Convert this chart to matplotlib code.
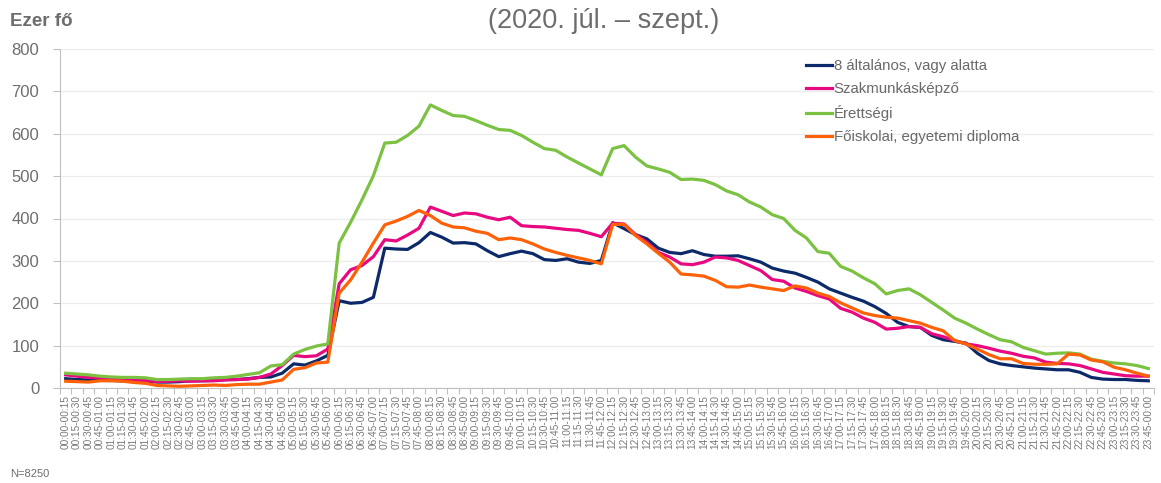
import matplotlib
matplotlib.use("Agg")
import matplotlib.pyplot as plt
from matplotlib.ticker import FixedLocator, NullFormatter

plt.rcParams['font.family'] = ['Liberation Sans', 'DejaVu Sans']

# 15 perces idősávok, 00:00-00:15 ... 23:45-00:00
def _hm(m):
    m = m % (24 * 60)
    return "%02d:%02d" % (m // 60, m % 60)

slots = [_hm(15 * k) + "-" + _hm(15 * (k + 1)) for k in range(96)]

# ezer fő, értékek
also = [22, 20, 19, 19, 18, 17, 17, 17, 14, 14, 15, 17, 17, 18, 20, 20,
        22, 25, 26, 35, 57, 54, 64, 77, 206, 200, 202, 214, 330, 328, 327, 343,
        367, 356, 342, 343, 340, 324, 310, 317, 323, 317, 303, 301, 305, 297, 294, 301,
        390, 376, 362, 352, 330, 320, 317, 324, 315, 311, 311, 312, 305, 297, 283, 276,
        271, 261, 250, 234, 224, 214, 205, 192, 176, 155, 145, 143, 124, 114, 110, 106,
        82, 65, 57, 53, 50, 47, 45, 43, 43, 37, 25, 21, 20, 20, 18, 17]

szakmunkas = [31, 28, 25, 24, 21, 20, 19, 18, 15, 16, 17, 16, 17, 17, 19, 20,
              21, 25, 33, 53, 77, 74, 76, 92, 246, 279, 289, 310, 350, 347, 361, 377,
              427, 417, 407, 413, 411, 403, 397, 403, 383, 381, 380, 377, 374, 372, 365, 357,
              389, 387, 362, 344, 320, 309, 293, 291, 297, 309, 307, 301, 289, 277, 256, 252,
              236, 228, 218, 210, 188, 179, 165, 155, 139, 141, 145, 143, 128, 121, 112, 104,
              100, 94, 87, 82, 75, 71, 61, 58, 57, 53, 45, 37, 33, 29, 28, 28]

erettsegi = [35, 33, 31, 28, 26, 25, 25, 24, 20, 20, 21, 22, 22, 24, 25, 28,
             32, 36, 52, 55, 80, 91, 99, 104, 342, 391, 444, 501, 578, 580, 596, 618,
             668, 655, 643, 641, 631, 620, 610, 608, 596, 580, 565, 561, 545, 531, 517, 503,
             565, 572, 545, 524, 517, 509, 492, 493, 490, 480, 465, 456, 439, 427, 409, 400,
             372, 354, 322, 318, 287, 276, 260, 246, 222, 230, 234, 220, 202, 184, 165, 153,
             139, 126, 114, 109, 96, 88, 80, 82, 83, 80, 68, 63, 59, 57, 53, 46]

foiskola = [16, 15, 14, 17, 17, 16, 13, 11, 6, 5, 4, 5, 6, 7, 6, 8,
            9, 9, 14, 19, 44, 48, 59, 61, 224, 255, 297, 342, 385, 394, 405, 419,
            407, 389, 380, 378, 370, 365, 350, 354, 350, 340, 328, 320, 313, 307, 301, 293,
            386, 386, 360, 340, 318, 297, 269, 267, 264, 254, 239, 238, 243, 238, 234, 230,
            241, 236, 224, 216, 201, 189, 177, 171, 167, 165, 159, 153, 143, 135, 112, 104,
            92, 79, 69, 69, 58, 56, 56, 57, 80, 78, 66, 62, 49, 43, 35, 28]

series_names = ["8 általános, vagy alatta", "Szakmunkásképző", "Érettségi",
                "Főiskolai, egyetemi diploma"]
colors = ["#0c2a6a", "#e8087f", "#7cc242", "#ff6108"]

fig = plt.figure(figsize=(11.61, 4.83), dpi=100)
ax = fig.add_axes([60 / 1161, 95 / 483, 1094 / 1161, 339 / 483])

x = list(range(len(slots)))
for vals, name, c in zip([also, szakmunkas, erettsegi, foiskola], series_names, colors):
    ax.plot(x, vals, color=c, lw=2.3, label=name, solid_joinstyle='round')

ax.set_xlim(-0.5, len(slots) - 0.5)
ax.set_ylim(0, 800)
ax.set_yticks(range(0, 801, 100))
ax.yaxis.grid(True, color='#ececec', lw=0.9)
ax.set_axisbelow(True)

ax.set_xticks(x)
ax.set_xticklabels(slots, rotation=90, fontsize=7.3, color='#7a7a7a')
ax.xaxis.set_minor_locator(FixedLocator([i - 0.5 for i in range(len(slots) + 1)]))
ax.xaxis.set_minor_formatter(NullFormatter())
ax.tick_params(axis='x', which='major', length=0, pad=5)
ax.tick_params(axis='x', which='minor', length=4, color='#c0c0c0', width=0.8)
ax.tick_params(axis='y', length=5, color='#c0c0c0', width=0.8, labelsize=12,
               labelcolor='#6e6e6e', pad=10)

for s in ['top', 'right']:
    ax.spines[s].set_visible(False)
ax.spines['left'].set_color('#c0c0c0')
ax.spines['bottom'].set_color('#c0c0c0')

leg = ax.legend(loc='upper left', bbox_to_anchor=(800 / 1161, 1 - 53 / 483),
                bbox_transform=fig.transFigure, frameon=False, fontsize=10.8,
                handlelength=1.7, handletextpad=0.15, labelspacing=0.6,
                borderaxespad=0)
for t in leg.get_texts():
    t.set_color('#6a6a6a')

fig.text(10 / 1161, 1 - 21 / 483, "Ezer fő", fontsize=13.5, fontweight='bold',
         color='#6d6d6d', va='center', ha='left')
fig.text(604 / 1161, 1 - 21 / 483, "(2020. júl. – szept.)", fontsize=19.5,
         color='#6d6d6d', va='center', ha='center')
fig.text(10 / 1161, 1 - 474 / 483, "N=8250", fontsize=8, color='#6d6d6d',
         va='center', ha='left')

fig.savefig("out.png", dpi=100)
